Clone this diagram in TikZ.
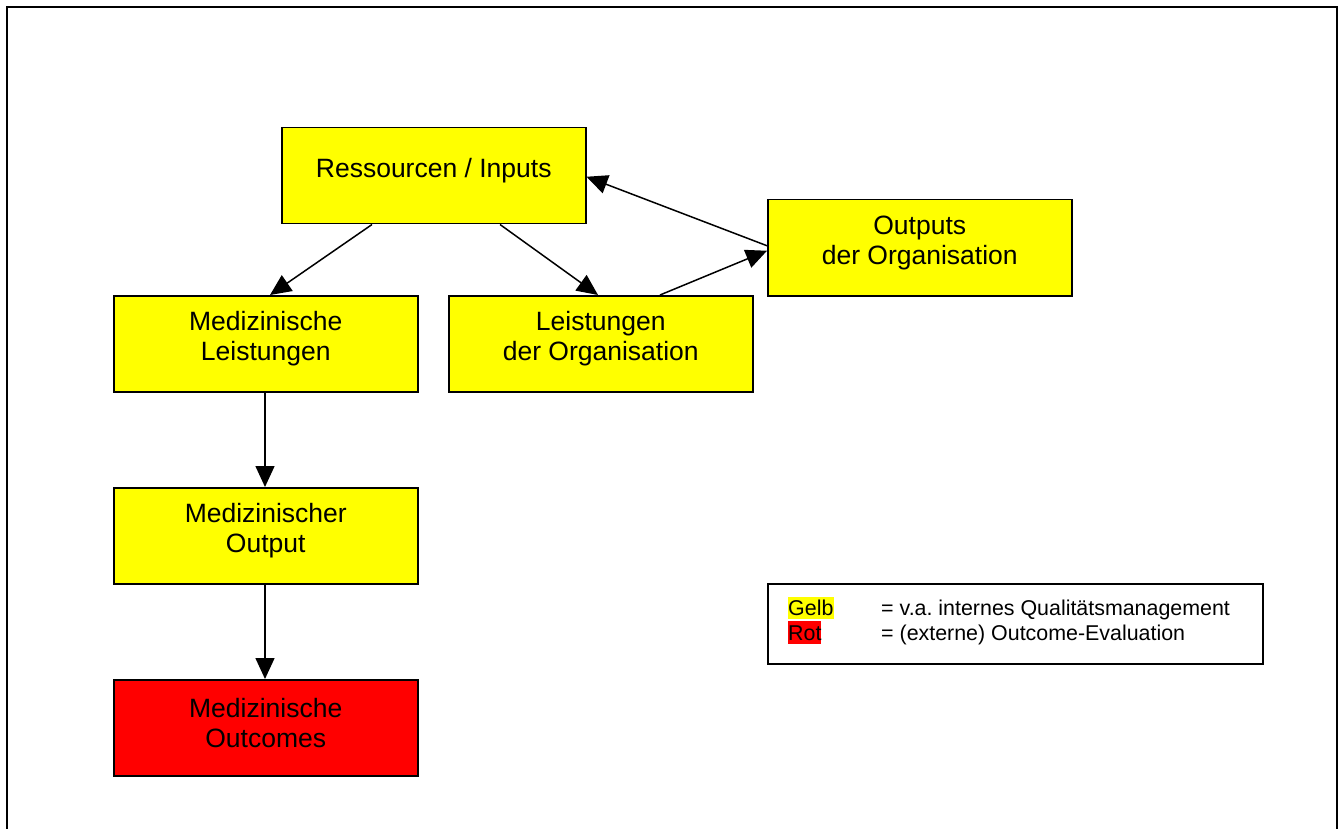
\documentclass[tikz,border=0pt]{standalone}
\usepackage{fontspec}
\setmainfont{Liberation Sans}
\usetikzlibrary{arrows.meta}
\definecolor{gelb}{RGB}{255,255,0}
\definecolor{rot}{RGB}{255,0,0}
\frenchspacing
\begin{document}
\begin{tikzpicture}[x=1pt,y=1pt,
  box/.style={draw=black,line width=1.5pt,minimum width=304pt,minimum height=96pt,inner sep=0pt,anchor=north west},
  ybox/.style={box,fill=gelb},
  rbox/.style={box,fill=rot},
  lbl/.style={align=center,font=\fontsize{26.5}{30}\selectfont,inner sep=0pt},
  conn/.style={line width=1.5pt,-{Triangle[length=21pt,width=19pt]}},
  leg/.style={font=\fontsize{21.4}{25}\selectfont,inner sep=0pt,anchor=base west}]
\useasboundingbox (0,0) rectangle (1341,-829);
\fill[white] (0,0) rectangle (1341,-829);
\draw[line width=2pt] (7,-829) -- (7,-7) -- (1337,-7) -- (1337,-829);

\node[ybox] (res) at (281,-127) {};
\node[lbl] (resT) at ([yshift=5pt]res.center) {Ressourcen / Inputs};
\node[ybox] (out) at (767,-199) {};
\node[lbl] (outT) at ([yshift=5pt]out.center) {Outputs\\der Organisation};
\node[ybox] (ml) at (113,-295) {};
\node[lbl] (mlT) at ([yshift=5pt]ml.center) {Medizinische\\Leistungen};
\node[ybox] (lo) at (448,-295) {};
\node[lbl] (loT) at ([yshift=5pt]lo.center) {Leistungen\\der Organisation};
\node[ybox] (mo) at (113,-487) {};
\node[lbl] (moT) at ([yshift=5pt]mo.center) {Medizinischer\\Output};
\node[rbox] (oc) at (113,-679) {};
\node[lbl] (ocT) at ([yshift=5pt]oc.center) {Medizinische\\Outcomes};

\draw[conn] ([xshift=91pt]res.south west) -- ([xshift=157pt]ml.north west);
\draw[conn] ([xshift=219pt]res.south west) -- ([xshift=150pt]lo.north west);
\draw[conn] ([xshift=212pt]lo.north west) -- ([yshift=-3pt]out.west);
\draw[conn] ([yshift=2pt]out.west) -- ([yshift=-1pt]res.east);
\draw[conn] ([xshift=152pt]ml.south west) -- ([xshift=152pt]mo.north west);
\draw[conn] ([xshift=152pt]mo.south west) -- ([xshift=152pt]oc.north west);

\node[draw=black,line width=1.5pt,minimum width=495pt,minimum height=80pt,inner sep=0pt,anchor=north west] (legend) at (767,-583) {};
\fill[gelb] (788,-597) rectangle (834,-619);
\fill[rot] (788,-621) rectangle (821,-644);
\node[leg] (g1) at (788,-615) {Gelb};
\node[leg] (g2) at (881,-615) {= v.a. internes Qualitätsmanagement};
\node[leg] (r1) at (788,-640) {Rot};
\node[leg] (r2) at (881,-640) {= (externe) Outcome-Evaluation};
\end{tikzpicture}
\end{document}
